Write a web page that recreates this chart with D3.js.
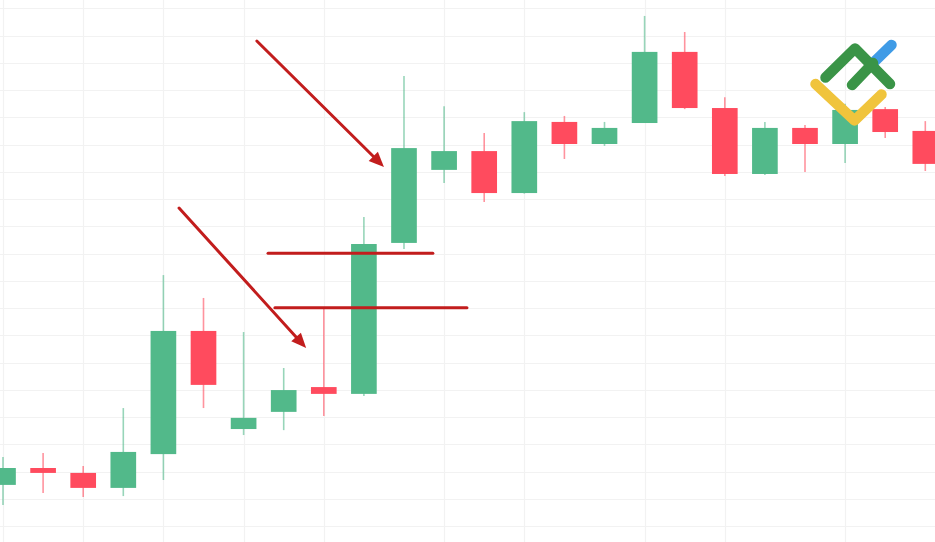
<!DOCTYPE html>
<html>
<head>
<meta charset="utf-8">
<script src="https://cdn.jsdelivr.net/npm/d3@7"></script>
<style>
  html, body { margin: 0; padding: 0; background: #ffffff; }
  svg { display: block; }
</style>
</head>
<body>
<div id="chart"></div>
<script>
// ---- data (prices in arbitrary units, one grid step = 10) ----
const candleIndex = d3.range(24);
const opens  = [25.1, 31.3, 29.5, 24.0, 36.4, 81.6, 45.6, 51.9, 61.0, 58.5, 113.9, 140.7, 147.6, 132.2, 158.3, 150.2, 157.9, 184.0, 163.4, 139.2, 156.1, 150.2, 163.0, 155.0];
const highs  = [35.3, 36.8, 32.0, 53.3, 102.1, 93.7, 81.2, 68.0, 90.4, 123.4, 175.2, 164.1, 154.2, 161.9, 160.5, 158.3, 197.2, 191.3, 167.4, 158.3, 157.2, 165.0, 163.8, 158.6];
const lows   = [17.7, 22.1, 20.7, 21.0, 26.9, 53.3, 43.4, 45.2, 50.4, 57.7, 111.7, 135.9, 128.9, 132.0, 144.7, 149.5, 157.9, 163.0, 138.5, 138.8, 139.9, 143.2, 152.4, 140.3];
const closes = [31.3, 29.5, 24.0, 37.2, 81.6, 61.8, 49.7, 59.9, 58.5, 113.5, 148.7, 147.6, 132.2, 158.6, 150.2, 156.1, 184.0, 163.4, 139.2, 156.1, 150.2, 162.7, 154.6, 142.9];

const priceTicks = d3.range(0, 201, 10);
const timeGridIndex = [0, 2, 4, 6, 8, 11, 13, 16, 18, 21];

// annotations (index, price)
const levelPrices = [110.1, 90.1];
const levelStart  = [6.61, 6.78];
const levelEnd    = [10.72, 11.57];
const arrowFromIdx   = [6.33, 4.39];
const arrowFromPrice = [188.0, 126.7];
const arrowToIdx     = [9.50, 7.56];
const arrowToPrice   = [141.8, 75.3];

const W = 935, H = 542;
const svg = d3.select('#chart').append('svg').attr('width', W).attr('height', H);

const x = d3.scaleLinear().domain([0, 23]).range([3, 925.3]);
const y = d3.scaleLinear().domain([0, 200]).range([553.3, 8.3]);
const step = x(1) - x(0);
const bodyW = step * 0.64;

const GREEN = '#52b98a', RED = '#ff4b5e', ANN = '#c21d1d';

// grid
const grid = svg.append('g');
grid.selectAll('line.h').data(priceTicks).join('line')
  .attr('x1', 0).attr('x2', W)
  .attr('y1', d => Math.round(y(d)) + 0.5).attr('y2', d => Math.round(y(d)) + 0.5)
  .attr('stroke', '#f2f2f2').attr('stroke-width', 1.2);
grid.selectAll('line.v').data(timeGridIndex).join('line')
  .attr('y1', 0).attr('y2', H)
  .attr('x1', d => Math.round(x(d)) + 0.5).attr('x2', d => Math.round(x(d)) + 0.5)
  .attr('stroke', '#f2f2f2').attr('stroke-width', 1.2);

const candles = candleIndex.map(i => ({i, o: opens[i], h: highs[i], l: lows[i], c: closes[i]}));

// wicks
svg.append('g').selectAll('line').data(candles).join('line')
  .attr('x1', d => x(d.i)).attr('x2', d => x(d.i))
  .attr('y1', d => y(d.h)).attr('y2', d => y(d.l))
  .attr('stroke', d => d.c >= d.o ? GREEN : RED)
  .attr('stroke-opacity', 0.6)
  .attr('stroke-width', 1.6);

// bodies
svg.append('g').selectAll('rect').data(candles).join('rect')
  .attr('x', d => x(d.i) - bodyW / 2)
  .attr('width', bodyW)
  .attr('y', d => y(Math.max(d.o, d.c)))
  .attr('height', d => Math.max(1, Math.abs(y(d.o) - y(d.c))))
  .attr('fill', d => d.c >= d.o ? GREEN : RED);

// level lines
svg.append('g').selectAll('line').data(levelPrices).join('line')
  .attr('x1', (d, k) => x(levelStart[k])).attr('x2', (d, k) => x(levelEnd[k]))
  .attr('y1', d => y(d)).attr('y2', d => y(d))
  .attr('stroke', ANN).attr('stroke-width', 3).attr('stroke-linecap', 'round');

// arrows
const arrows = arrowFromIdx.map((d, k) => ({
  x1: x(arrowFromIdx[k]), y1: y(arrowFromPrice[k]),
  x2: x(arrowToIdx[k]), y2: y(arrowToPrice[k])
}));
const ag = svg.append('g');
arrows.forEach(a => {
  const ang = Math.atan2(a.y2 - a.y1, a.x2 - a.x1);
  const headL = 15, headW = 6.5;
  const bx = a.x2 - headL * Math.cos(ang), by = a.y2 - headL * Math.sin(ang);
  ag.append('line')
    .attr('x1', a.x1).attr('y1', a.y1).attr('x2', bx + 2 * Math.cos(ang)).attr('y2', by + 2 * Math.sin(ang))
    .attr('stroke', ANN).attr('stroke-width', 3).attr('stroke-linecap', 'round');
  const px = -Math.sin(ang), py = Math.cos(ang);
  ag.append('path')
    .attr('d', `M${a.x2},${a.y2} L${bx + px * headW},${by + py * headW} L${bx - px * headW},${by - py * headW} Z`)
    .attr('fill', ANN);
});

// logo
const logo = svg.append('g').attr('fill', 'none').attr('stroke-linecap', 'round').attr('stroke-linejoin', 'round').attr('stroke-width', 10.5);
logo.append('path').attr('d', 'M873,63 L891.5,45').attr('stroke', '#3f9be6');
logo.append('path').attr('d', 'M852,85 L873,63').attr('stroke', '#3a9447');
logo.append('path').attr('d', 'M825.5,77.5 L855,48.5 L890,84').attr('stroke', '#3a9447');
logo.append('path').attr('d', 'M815.5,84 L854.5,120.5 L881.5,94.5').attr('stroke', '#f0c43c');
</script>
</body>
</html>
